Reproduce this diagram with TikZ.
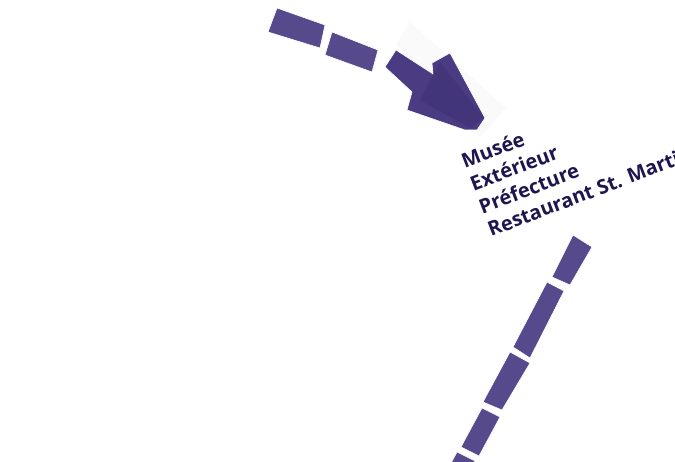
\documentclass[tikz,border=0pt]{standalone}
\usepackage{fontspec}
\newfontfamily\stopfont{Open Sans}
\definecolor{routeviolet}{HTML}{574A8C}
\definecolor{arrowviolet}{HTML}{4A3B82}
\definecolor{labelnavy}{HTML}{1F1650}
\tikzset{
  dashbox/.style={fill=routeviolet, draw=white, line width=0.6pt, line join=round},
  headbox/.style={fill=arrowviolet, draw=white, line width=0.6pt, line join=round},
  stoplabel/.style={anchor=base west, rotate=21, inner sep=0pt, text=labelnavy, align=left,
    font=\stopfont\bfseries\fontsize{20}{24.5}\selectfont}
}
\begin{document}
\begin{tikzpicture}[x=1pt,y=-1pt]
  \useasboundingbox (0,0) rectangle (675,462);
  \clip (0,0) rectangle (675,462);
  % faint box behind the arrow
  \fill[black!2] (396,44) -- (410,22) -- (506,108) -- (480,138) -- cycle;
  % upper route, ending in the arrow
  \fill[dashbox] (277,8) -- (325,25) -- (320,48) -- (268,32) -- cycle;
  \fill[dashbox] (332,32) -- (378,50) -- (372,72) -- (325,55) -- cycle;
  \filldraw[headbox] (396,50) -- (433,74) -- (432,63) -- (450,53) -- (485,118)
    -- (477,130) -- (465,130) -- (407,110) -- (412,92) -- (385,67) -- cycle;
  \fill[labelnavy, opacity=0.15] (440,62) -- (484,118) -- (470,128) -- (420,100) -- cycle;
  % stop names (base is the last line)
  \node[stoplabel] (stops) at (491,237)
    {Musée\\Extérieur\\Préfecture\\Restaurant St. Marti};
  % lower route
  \fill[dashbox] (573,235) -- (592,247) -- (570,285) -- (552,277) -- cycle;
  \fill[dashbox] (547,282) -- (564,291) -- (530,358) -- (513,347) -- cycle;
  \fill[dashbox] (510,352) -- (530,363) -- (502,410) -- (483,402) -- cycle;
  \fill[dashbox] (482,408) -- (500,417) -- (479,456) -- (461,447) -- cycle;
  \fill[dashbox] (457,452) -- (475,461) -- (466,478) -- (448,469) -- cycle;
\end{tikzpicture}
\end{document}
